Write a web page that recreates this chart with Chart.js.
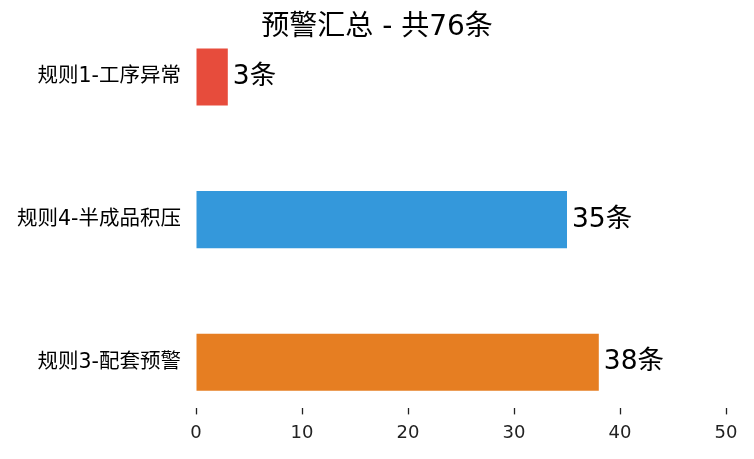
<!DOCTYPE html>
<html lang="zh">
<head>
<meta charset="utf-8">
<title>预警汇总</title>
<script src="https://cdn.jsdelivr.net/npm/chart.js@4.4.0/dist/chart.umd.min.js"></script>
<style>
  html, body { margin: 0; padding: 0; background: #fff; }
  #wrap { width: 754px; height: 459px; }
</style>
</head>
<body>
<div id="wrap"><canvas id="chart"></canvas></div>
<script>
// data
const categories = ['规则1-工序异常', '规则4-半成品积压', '规则3-配套预警'];
const counts = [3, 35, 38];
const barColors = ['#e74c3c', '#3498db', '#e67e22'];
const xTicks = [0, 10, 20, 30, 40, 50];
const unit = '条';
const total = counts.reduce((a, b) => a + b, 0);

const fontFamily = '"DejaVu Sans", "Noto Sans CJK SC", sans-serif';

// small inline plugin for the "N条" labels at the end of each bar
const valueLabels = {
	id: 'valueLabels',
	afterDatasetsDraw(chart) {
		const ctx = chart.ctx;
		const meta = chart.getDatasetMeta(0);
		ctx.save();
		ctx.font = '26.5px ' + fontFamily;
		ctx.fillStyle = '#000';
		ctx.textAlign = 'left';
		ctx.textBaseline = 'middle';
		meta.data.forEach((bar, i) => {
			ctx.fillText(counts[i] + unit, bar.x + 5, bar.y);
		});
		ctx.restore();
	}
};

const config = {
	type: 'bar',
	data: {
		datasets: [{
			data: counts.map((v, i) => ({x: v, y: i})),
			backgroundColor: barColors,
			borderWidth: 0,
			barPercentage: 0.4,
			categoryPercentage: 1.0
		}]
	},
	options: {
		indexAxis: 'y',
		responsive: true,
		maintainAspectRatio: false,
		animation: false,
		layout: {
			padding: {left: 0, right: 0, top: 0, bottom: 7}
		},
		scales: {
			x: {
				type: 'linear',
				min: 0,
				max: 50,
				afterBuildTicks: (scale) => { scale.ticks = xTicks.map(v => ({value: v})); },
				// leave room on the right without shifting the title off centre
				afterFit: (scale) => { scale.paddingRight = 28; },
				grid: {
					drawOnChartArea: false,
					drawTicks: true,
					tickLength: 6,
					tickWidth: 1.3,
					tickColor: '#222'
				},
				border: {display: false},
				ticks: {
					color: '#222',
					padding: 8,
					font: {family: fontFamily, size: 18}
				}
			},
			y: {
				type: 'linear',
				reverse: true,
				offset: false,
				min: -0.213,
				max: 2.323,
				afterBuildTicks: (scale) => { scale.ticks = categories.map((c, i) => ({value: i})); },
				afterFit: (scale) => { scale.width = 196; },
				grid: {display: false, drawTicks: false},
				border: {display: false},
				ticks: {
					color: '#000',
					padding: 15,
					font: {family: fontFamily, size: 20.5},
					callback: (v) => categories[v]
				}
			}
		},
		plugins: {
			legend: {display: false},
			tooltip: {enabled: false},
			title: {
				display: true,
				text: '预警汇总 - 共' + total + unit,
				color: '#000',
				font: {family: fontFamily, size: 28, weight: 'normal'},
				padding: {top: 11, bottom: 2}
			}
		}
	},
	plugins: [valueLabels]
};

const chart = new Chart(document.getElementById('chart'), config);
</script>
</body>
</html>
